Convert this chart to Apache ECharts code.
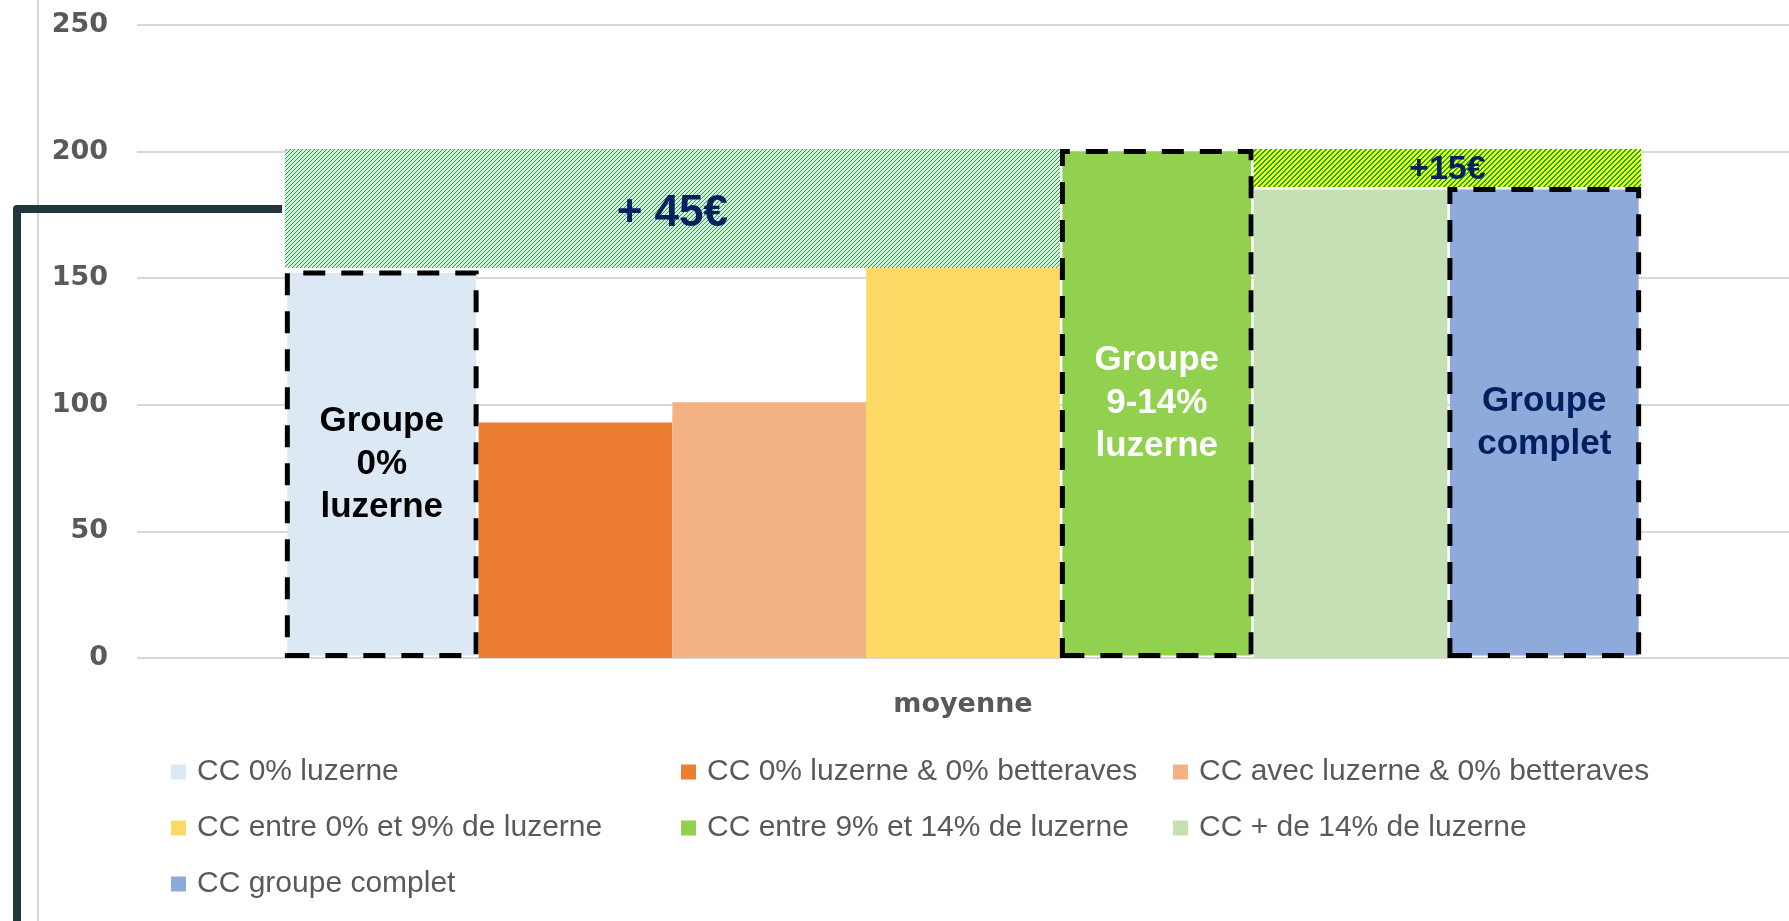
<!DOCTYPE html>
<html>
<head>
<meta charset="utf-8" />
<script type="text/javascript" src="https://cdn.jsdelivr.net/npm/echarts@6/dist/echarts.min.js"></script>
<style>
  html, body { margin: 0; padding: 0; background: #ffffff; }
  #chartDom { width: 1789px; height: 921px; }
</style>
</head>
<body>
<div id="chartDom"></div>
<script type="text/javascript">
// data
var categories = ['moyenne'];
var seriesNames = [
    'CC 0% luzerne',
    'CC 0% luzerne & 0% betteraves',
    'CC avec luzerne & 0% betteraves',
    'CC entre 0% et 9% de luzerne',
    'CC entre 9% et 14% de luzerne',
    'CC + de 14% de luzerne',
    'CC groupe complet'
];
var seriesValues = [153, 93, 101, 179, 201, 185, 186];
var seriesColors = ['#dde8f5', '#ed7d31', '#f4b183', '#ffd966', '#92d050', '#c5e0b4', '#8eaadb'];
var yMin = 0, yMax = 250, yStep = 50;

// group labels written inside some bars
var barLabels = ['Groupe\n0%\nluzerne', '', '', '', 'Groupe\n9-14%\nluzerne', '', 'Groupe\ncomplet'];
var barLabelColors = ['#000000', '', '', '', '#ffffff', '', '#002060'];
var dashedBars = [true, false, false, false, true, false, true];

// hatched gap boxes: first bar, last bar, low value, high value
var hatchFirst = [0, 5];
var hatchLast = [3, 6];
var hatchLow = [154, 186];
var hatchHigh = [201, 201];
var hatchLabels = ['+ 45\u20ac', '+15\u20ac'];

var gapRatio = 0.179;

function makePattern(bg, fg, n, thick) {
    var c = document.createElement('canvas');
    c.width = n; c.height = n;
    var ctx = c.getContext('2d');
    ctx.fillStyle = bg;
    ctx.fillRect(0, 0, n, n);
    ctx.fillStyle = fg;
    for (var k = 0; k < n; k++) {
        ctx.fillRect(n - 1 - k, k, 1, 1);
        if (thick) ctx.fillRect((n - k) % n, k, 1, 1);
    }
    return { image: c, repeat: 'repeat' };
}
var hatchFills = [makePattern('#e2e9d8', '#00b050', 4, false), makePattern('#ffff00', '#00b050', 5, true)];
var hatchFonts = ['bold 44px "Liberation Sans", Arial, sans-serif', 'bold 34px "Liberation Sans", Arial, sans-serif'];

var myChart = echarts.init(document.getElementById('chartDom'));

var series = seriesNames.map(function (name, i) {
    return {
        name: name,
        type: 'bar',
        barGap: '0%',
        barCategoryGap: (gapRatio * 100) + '%',
        data: [seriesValues[i]],
        itemStyle: {
            color: seriesColors[i],
            borderColor: dashedBars[i] ? '#000000' : seriesColors[i],
            borderWidth: dashedBars[i] ? 5 : 0,
            borderType: [22, 16]
        },
        label: {
            show: barLabels[i] !== '',
            position: 'inside',
            formatter: barLabels[i],
            color: barLabelColors[i],
            fontFamily: '"Liberation Sans", Arial, sans-serif',
            fontWeight: 'bold',
            fontSize: 35,
            lineHeight: 43
        }
    };
});

var hatchData = hatchFirst.map(function (f, i) {
    return [0, f, hatchLast[i], hatchLow[i], hatchHigh[i]];
});

series.push({
    type: 'custom',
    name: 'ecart',
    z: 5,
    silent: true,
    data: hatchData,
    encode: { x: 0, y: [3, 4] },
    renderItem: function (params, api) {
        var i = params.dataIndex;
        var band = api.size([1, 0])[0];
        var barW = band * (1 - gapRatio) / seriesNames.length;
        var center = api.coord([api.value(0), 0])[0];
        var left0 = center - barW * seriesNames.length / 2;
        var x0 = left0 + api.value(1) * barW;
        var x1 = left0 + (api.value(2) + 1) * barW;
        var yLo = api.coord([api.value(0), api.value(3)])[1];
        var yHi = api.coord([api.value(0), api.value(4)])[1];
        return {
            type: 'group',
            children: [{
                type: 'rect',
                shape: { x: x0, y: yHi, width: x1 - x0, height: yLo - yHi },
                style: { fill: hatchFills[i] }
            }, {
                type: 'text',
                style: {
                    text: hatchLabels[i],
                    x: (x0 + x1) / 2,
                    y: (yLo + yHi) / 2 + (i === 0 ? 5 : 2),
                    align: 'center',
                    verticalAlign: 'middle',
                    font: hatchFonts[i],
                    fill: '#002060'
                }
            }]
        };
    }
});

// legend: three columns, each item placed on its own
var legendCols = [171, 681, 1173];
var legendRows = [772, 828, 884];
var legends = seriesNames.map(function (name, i) {
    return {
        data: [name],
        left: legendCols[i % 3],
        top: legendRows[Math.floor(i / 3)] - 20,
        padding: 0,
        icon: 'rect',
        itemWidth: 15,
        itemHeight: 15,
        itemGap: 0,
        selectedMode: false,
        itemStyle: { borderWidth: 0 },
        textStyle: {
            fontFamily: '"Liberation Sans", Arial, sans-serif',
            fontSize: 30,
            lineHeight: 40,
            color: '#595959',
            padding: [0, 0, 0, 6]
        }
    };
});

var option = {
    animation: false,
    backgroundColor: '#ffffff',
    grid: { left: 137, right: 0, top: 25, bottom: 263, containLabel: false },
    legend: legends,
    xAxis: {
        type: 'category',
        data: categories,
        axisLine: { show: false },
        axisTick: { show: false },
        axisLabel: {
            margin: 33,
            color: '#595959',
            fontFamily: '"DejaVu Sans", Verdana, sans-serif',
            fontWeight: 'bold',
            fontSize: 27
        }
    },
    yAxis: {
        type: 'value',
        min: yMin,
        max: yMax,
        interval: yStep,
        axisLine: { show: false },
        axisTick: { show: false },
        axisLabel: {
            margin: 29,
            color: '#595959',
            fontFamily: '"DejaVu Sans", Verdana, sans-serif',
            fontWeight: 'bold',
            fontSize: 27
        },
        splitLine: { lineStyle: { color: '#d9d9d9', width: 2 } }
    },
    graphic: [{
        type: 'line',
        shape: { x1: 38, y1: 0, x2: 38, y2: 921 },
        style: { stroke: '#d4d4d4', lineWidth: 2 },
        z: 1
    }, {
        type: 'polyline',
        shape: { points: [[17, 930], [17, 209], [282, 209]] },
        style: { stroke: '#22373d', lineWidth: 8, fill: null, lineJoin: 'round' },
        z: 10
    }],
    series: series
};

myChart.setOption(option);
window.onresize = myChart.resize;
</script>
</body>
</html>
